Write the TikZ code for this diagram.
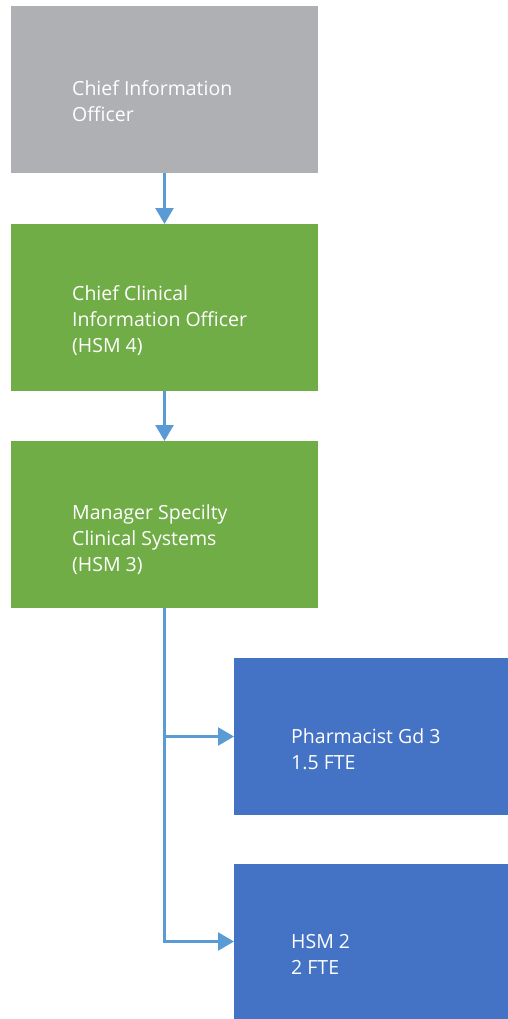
\documentclass[tikz,border=0pt]{standalone}
\usepackage{fontspec}
\setmainfont{Open Sans}
\usetikzlibrary{arrows.meta}
\definecolor{boxgray}{RGB}{175,176,179}
\definecolor{boxgreen}{RGB}{112,173,71}
\definecolor{boxblue}{RGB}{68,114,196}
\definecolor{conncol}{RGB}{91,155,213}
\tikzset{
  box/.style={inner sep=0pt, outer sep=0pt, anchor=north west},
  lbl/.style={text=white, anchor=base west, align=left, inner sep=0pt,
    font=\fontsize{19.5}{26}\selectfont},
  conn/.style={draw=conncol, line width=2.5pt, -{Triangle[length=16pt,width=18pt]}}
}
\begin{document}
\begin{tikzpicture}[x=1pt,y=-1pt]
\useasboundingbox (0,0) rectangle (508,1019);
\node[box, fill=boxgray, minimum width=307pt, minimum height=167pt] (b1) at (11,6) {};
\node[box, fill=boxgreen, minimum width=307pt, minimum height=167pt] (b2) at (11,224) {};
\node[box, fill=boxgreen, minimum width=307pt, minimum height=167pt] (b3) at (11,441) {};
\node[box, fill=boxblue, minimum width=274pt, minimum height=157pt] (b4) at (234,658) {};
\node[box, fill=boxblue, minimum width=274pt, minimum height=155pt] (b5) at (234,864) {};
\node[lbl] (t1) at (72,122) {Chief Information\\Officer};
\node[lbl] (t2) at (72,352) {Chief Clinical\\Information Officer\\(HSM 4)};
\node[lbl] (t3) at (72,571) {Manager Specilty\\Clinical Systems\\(HSM 3)};
\node[lbl] (t4) at (291,769) {Pharmacist Gd 3\\1.5 FTE};
\node[lbl] (t5) at (291,974) {HSM 2\\2 FTE};
\draw[conn] (b1.south) -- (b2.north);
\draw[conn] (b2.south) -- (b3.north);
\draw[conn] (b3.south) |- (b4.west);
\draw[conn] (b3.south) |- (b5.west);
\end{tikzpicture}
\end{document}
